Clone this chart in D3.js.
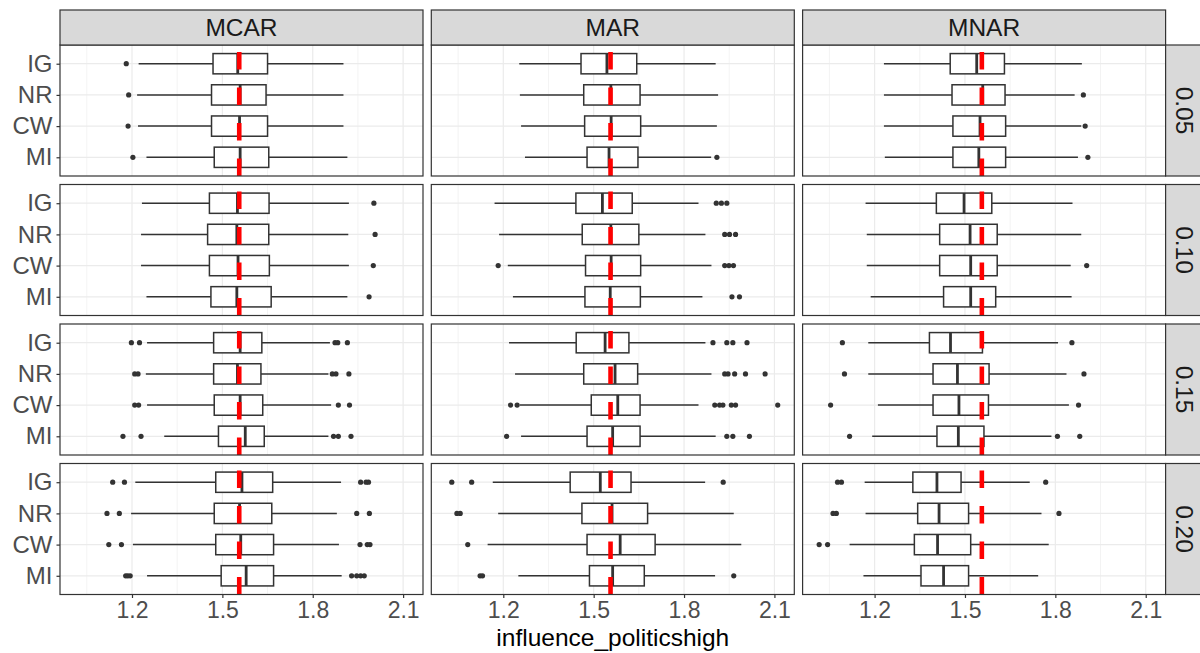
<!DOCTYPE html>
<html>
<head>
<meta charset="utf-8">
<script src="https://cdn.jsdelivr.net/npm/d3@7"></script>
<style>
  body { margin: 0; background: #fff; }
  text { font-family: "Liberation Sans", Arial, sans-serif; }
</style>
</head>
<body>
<div id="chart"></div>
<script>
// facets and categories
const rates = ["0.05", "0.10", "0.15", "0.20"];
const mechanisms = ["MCAR", "MAR", "MNAR"];
const methods = ["IG", "NR", "CW", "MI"];
const trueValue = 1.556;
const xTicks = [1.2, 1.5, 1.8, 2.1];
const xMinorTicks = [1.05, 1.35, 1.65, 1.95];
const xDomain = [0.961, 2.166];

// box stats, indexed [rate][mechanism][method]
const whiskerLow = [
  [[1.222, 1.217, 1.220, 1.248], [1.253, 1.255, 1.259, 1.272], [1.231, 1.231, 1.231, 1.234]],
  [[1.233, 1.230, 1.230, 1.248], [1.171, 1.186, 1.215, 1.232], [1.170, 1.174, 1.174, 1.187]],
  [[1.250, 1.246, 1.250, 1.307], [1.219, 1.239, 1.255, 1.259], [1.179, 1.179, 1.211, 1.192]],
  [[1.211, 1.197, 1.203, 1.250], [1.165, 1.183, 1.148, 1.250], [1.167, 1.170, 1.117, 1.163]]
];
const q1 = [
  [[1.469, 1.464, 1.464, 1.473], [1.458, 1.467, 1.470, 1.478], [1.451, 1.457, 1.460, 1.460]],
  [[1.457, 1.451, 1.457, 1.462], [1.441, 1.462, 1.473, 1.471], [1.405, 1.416, 1.416, 1.429]],
  [[1.471, 1.471, 1.473, 1.487], [1.442, 1.467, 1.492, 1.478], [1.382, 1.394, 1.394, 1.407]],
  [[1.478, 1.473, 1.478, 1.496], [1.422, 1.461, 1.478, 1.486], [1.327, 1.343, 1.332, 1.354]]
];
const median = [
  [[1.551, 1.559, 1.557, 1.559], [1.544, 1.557, 1.558, 1.551], [1.539, 1.559, 1.550, 1.546]],
  [[1.550, 1.548, 1.552, 1.548], [1.529, 1.557, 1.558, 1.555], [1.497, 1.517, 1.519, 1.519]],
  [[1.559, 1.550, 1.559, 1.576], [1.538, 1.571, 1.580, 1.563], [1.452, 1.475, 1.480, 1.478]],
  [[1.565, 1.557, 1.561, 1.579], [1.522, 1.561, 1.588, 1.563], [1.407, 1.414, 1.409, 1.429]]
];
const q3 = [
  [[1.650, 1.645, 1.650, 1.654], [1.643, 1.654, 1.656, 1.647], [1.631, 1.633, 1.635, 1.635]],
  [[1.655, 1.654, 1.656, 1.662], [1.628, 1.650, 1.656, 1.655], [1.589, 1.607, 1.607, 1.602]],
  [[1.631, 1.628, 1.634, 1.639], [1.617, 1.646, 1.654, 1.654], [1.558, 1.580, 1.578, 1.563]],
  [[1.667, 1.664, 1.670, 1.670], [1.624, 1.679, 1.704, 1.668], [1.487, 1.512, 1.519, 1.512]]
];
const whiskerHigh = [
  [[1.902, 1.902, 1.902, 1.915], [1.905, 1.913, 1.909, 1.890], [1.888, 1.864, 1.886, 1.875]],
  [[1.920, 1.918, 1.920, 1.915], [1.848, 1.871, 1.891, 1.861], [1.857, 1.886, 1.851, 1.854]],
  [[1.857, 1.852, 1.861, 1.852], [1.871, 1.891, 1.848, 1.905], [1.809, 1.837, 1.845, 1.787]],
  [[1.894, 1.880, 1.887, 1.896], [1.870, 1.965, 1.990, 1.903], [1.715, 1.754, 1.778, 1.743]]
];
const outliers = [
  [[[1.181], [1.189], [1.187], [1.203]],
   [[], [], [], [1.909]],
   [[], [1.893], [1.899], [1.908]]],
  [[[2.003], [2.007], [2.001], [1.987]],
   [[1.907, 1.924, 1.942], [1.935, 1.951, 1.971], [1.183, 1.935, 1.949, 1.964], [1.959, 1.984]],
   [[], [], [1.904], []]],
  [[[1.198, 1.225, 1.874, 1.883, 1.915], [1.209, 1.220, 1.865, 1.877, 1.920], [1.209, 1.222, 1.885, 1.922], [1.170, 1.230, 1.869, 1.885, 1.927]],
   [[1.896, 1.942, 1.962, 2.009], [1.935, 1.946, 1.968, 2.004, 2.069], [1.224, 1.246, 1.902, 1.918, 1.929, 1.957, 1.971, 2.111], [1.211, 1.942, 1.962, 2.017]],
   [[1.093, 1.855], [1.100, 1.895], [1.054, 1.877], [1.117, 1.807, 1.881]]],
  [[[1.136, 1.175, 1.959, 1.977, 1.985], [1.117, 1.158, 1.946, 1.988], [1.123, 1.165, 1.957, 1.981, 1.990], [1.179, 1.186, 1.194, 1.929, 1.946, 1.959, 1.971]],
   [[1.029, 1.095, 1.930], [1.046, 1.057], [1.082], [1.123, 1.131, 1.965]],
   [[1.077, 1.090, 1.768], [1.062, 1.073, 1.812], [1.016, 1.044], []]]
];

const width = 1200, height = 653;
const panelLeft = 60, panelTop = 45;
const pw = 363, ph = 131;
const colGap = 8.3, rowGap = 8.5;
const stripH = 35, stripW = 40;
const dark = "#333333";

const svg = d3.select("#chart").append("svg")
  .attr("width", width)
  .attr("height", height);

svg.append("rect").attr("width", width).attr("height", height).attr("fill", "#fff");

const x = d3.scaleLinear().domain(xDomain).range([0, pw]);
const y = d3.scalePoint().domain(methods).range([0, ph]).padding(0.6);
const boxH = y.step() * 0.65;

svg.append("defs").append("clipPath").attr("id", "panel-clip")
  .append("rect").attr("width", pw).attr("height", ph);

rates.forEach((rate, r) => {
  mechanisms.forEach((mech, c) => {
    const px = panelLeft + c * (pw + colGap);
    const py = panelTop + r * (ph + rowGap);
    const g = svg.append("g").attr("transform", "translate(" + px + "," + py + ")");

    // background + grid
    g.append("rect").attr("width", pw).attr("height", ph).attr("fill", "#fff");
    g.selectAll(".minor").data(xMinorTicks).enter().append("line")
      .attr("x1", d => x(d)).attr("x2", d => x(d))
      .attr("y1", 0).attr("y2", ph)
      .attr("stroke", "#ebebeb").attr("stroke-width", 0.6);
    g.selectAll(".major").data(xTicks).enter().append("line")
      .attr("x1", d => x(d)).attr("x2", d => x(d))
      .attr("y1", 0).attr("y2", ph)
      .attr("stroke", "#ebebeb").attr("stroke-width", 1.2);
    g.selectAll(".hgrid").data(methods).enter().append("line")
      .attr("x1", 0).attr("x2", pw)
      .attr("y1", d => y(d)).attr("y2", d => y(d))
      .attr("stroke", "#ebebeb").attr("stroke-width", 1.2);

    const inner = g.append("g").attr("clip-path", "url(#panel-clip)");

    methods.forEach((m, k) => {
      const cy = y(m);
      const lo = whiskerLow[r][c][k], a = q1[r][c][k], md = median[r][c][k],
            b = q3[r][c][k], hi = whiskerHigh[r][c][k];
      inner.append("line")
        .attr("x1", x(lo)).attr("x2", x(a)).attr("y1", cy).attr("y2", cy)
        .attr("stroke", dark).attr("stroke-width", 1.5);
      inner.append("line")
        .attr("x1", x(b)).attr("x2", x(hi)).attr("y1", cy).attr("y2", cy)
        .attr("stroke", dark).attr("stroke-width", 1.5);
      inner.append("rect")
        .attr("x", x(a)).attr("y", cy - boxH / 2)
        .attr("width", x(b) - x(a)).attr("height", boxH)
        .attr("fill", "#fff").attr("stroke", dark).attr("stroke-width", 1.5);
      inner.append("line")
        .attr("x1", x(md)).attr("x2", x(md))
        .attr("y1", cy - boxH / 2).attr("y2", cy + boxH / 2)
        .attr("stroke", dark).attr("stroke-width", 2.8);
      inner.selectAll(".out" + k).data(outliers[r][c][k]).enter().append("circle")
        .attr("cx", d => x(d)).attr("cy", cy).attr("r", 2.6)
        .attr("fill", dark);
    });

    // reference value, dashed from the bottom up
    inner.append("line")
      .attr("x1", x(trueValue)).attr("x2", x(trueValue))
      .attr("y1", ph).attr("y2", 0)
      .attr("stroke", "#ff0000").attr("stroke-width", 4.6)
      .attr("stroke-dasharray", "17.5,18");

    g.append("rect").attr("width", pw).attr("height", ph)
      .attr("fill", "none").attr("stroke", dark).attr("stroke-width", 1.2);

    // axes
    if (c === 0) {
      const ay = g.append("g").call(d3.axisLeft(y).tickSize(3.5).tickPadding(4));
      ay.select(".domain").remove();
      ay.selectAll("line").attr("stroke", dark).attr("stroke-width", 1.2);
      ay.selectAll("text").attr("fill", "#4d4d4d").style("font-size", "24px")
        .style("font-family", "'Liberation Sans', Arial, sans-serif");
    }
    if (r === rates.length - 1) {
      const ax = g.append("g").attr("transform", "translate(0," + ph + ")")
        .call(d3.axisBottom(x).tickValues(xTicks).tickFormat(d3.format(".1f")).tickSize(3.5).tickPadding(4));
      ax.select(".domain").remove();
      ax.selectAll("line").attr("stroke", dark).attr("stroke-width", 1.2);
      ax.selectAll("text").attr("fill", "#4d4d4d").style("font-size", "23px")
        .style("font-family", "'Liberation Sans', Arial, sans-serif");
    }

    // strips
    if (r === 0) {
      g.append("rect").attr("x", 0).attr("y", -stripH)
        .attr("width", pw).attr("height", stripH)
        .attr("fill", "#d9d9d9").attr("stroke", dark).attr("stroke-width", 1.2);
      g.append("text").attr("x", pw / 2).attr("y", -stripH / 2).attr("dy", "0.36em")
        .attr("text-anchor", "middle").attr("fill", "#1a1a1a")
        .style("font-size", "24.5px").text(mech);
    }
    if (c === mechanisms.length - 1) {
      g.append("rect").attr("x", pw).attr("y", 0)
        .attr("width", stripW).attr("height", ph)
        .attr("fill", "#d9d9d9").attr("stroke", dark).attr("stroke-width", 1.2);
      g.append("text")
        .attr("transform", "translate(" + (pw + 19.5) + "," + (ph / 2) + ") rotate(90)")
        .attr("dy", "0.36em").attr("text-anchor", "middle").attr("fill", "#1a1a1a")
        .style("font-size", "24.5px").text(rate);
    }
  });
});

svg.append("text")
  .attr("x", panelLeft + (3 * pw + 2 * colGap) / 2).attr("y", 646)
  .attr("text-anchor", "middle").attr("fill", "#000")
  .style("font-size", "24.5px")
  .text("influence_politicshigh");
</script>
</body>
</html>
